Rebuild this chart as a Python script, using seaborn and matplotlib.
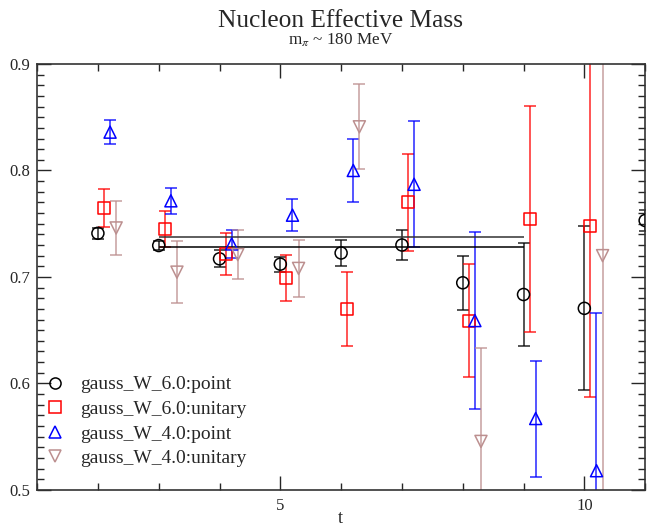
import numpy as np
import pandas as pd
import matplotlib
matplotlib.use("Agg")
import matplotlib.pyplot as plt
from matplotlib.lines import Line2D
from matplotlib.ticker import MultipleLocator, FormatStrFormatter
import seaborn as sns

# data (NaN = point not on the chart)
t = [2, 3, 4, 5, 6, 7, 8, 9, 10, 11]
w6_point = [0.741, 0.7295, 0.717, 0.712, 0.7225, 0.730, 0.6945, 0.6835, 0.6705, 0.753]
w6_point_err = [0.005, 0.004, 0.008, 0.007, 0.0125, 0.014, 0.0255, 0.0487, 0.077, 0.01]
w6_unit = [0.765, 0.745, 0.7215, 0.699, 0.670, 0.770, 0.659, 0.7545, 0.748, np.nan]
w6_unit_err = [0.018, 0.017, 0.0195, 0.022, 0.035, 0.0455, 0.053, 0.106, 0.161, np.nan]
w4_point = [0.836, 0.7715, 0.731, 0.758, 0.800, 0.787, 0.659, 0.567, 0.518, np.nan]
w4_point_err = [0.011, 0.012, 0.013, 0.015, 0.030, 0.059, 0.0835, 0.0545, 0.148, np.nan]
w4_unit = [0.746, 0.7045, 0.721, 0.708, 0.841, np.nan, 0.5455, np.nan, 0.720, np.nan]
w4_unit_err = [0.025, 0.029, 0.023, 0.027, 0.040, np.nan, 0.088, np.nan, 0.25, np.nan]
labels = ["gauss_W_6.0:point", "gauss_W_6.0:unitary", "gauss_W_4.0:point", "gauss_W_4.0:unitary"]
fit_hi, fit_lo = 0.7373, 0.7279
fit_range = (3, 9)

series = [
    (labels[0], w6_point, w6_point_err, 0.0, "o", "black"),
    (labels[1], w6_unit, w6_unit_err, 0.1, "s", "red"),
    (labels[2], w4_point, w4_point_err, 0.2, "^", "blue"),
    (labels[3], w4_unit, w4_unit_err, 0.3, "v", "rosybrown"),
]

sns.set_style("ticks")
plt.rcParams["font.family"] = ["Liberation Serif", "DejaVu Serif"]
plt.rcParams["mathtext.fontset"] = "stix"

fig = plt.figure(figsize=(6.51, 5.29), dpi=100)
ax = fig.add_axes([0.057, 0.074, 0.934, 0.805])

handles = []
for name, vals, errs, off, mk, col in series:
    df = pd.DataFrame({"t": np.array(t) + off, "m": vals, "err": errs}).dropna()
    ax.errorbar(df["t"], df["m"], yerr=df["err"], fmt="none", ecolor=col,
                elinewidth=1.1, capsize=4.5, capthick=1.1, alpha=0.85)
    sns.scatterplot(data=df, x="t", y="m", marker=mk, s=75, facecolor="none",
                    edgecolor=col, linewidth=1.1, ax=ax, zorder=3)
    handles.append(Line2D([], [], marker=mk, ls="none", mfc="none", mec=col,
                          ms=8, mew=1.1, label=name))

ax.hlines([fit_hi, fit_lo], *fit_range, colors=["#333333", "black"], lw=1.1)

ax.set_xlim(1, 11)
ax.set_ylim(0.5, 0.9)
ax.xaxis.set_major_locator(MultipleLocator(5))
ax.xaxis.set_minor_locator(MultipleLocator(1))
ax.yaxis.set_major_locator(MultipleLocator(0.1))
ax.yaxis.set_minor_locator(MultipleLocator(0.01))
ax.tick_params(which="both", direction="in", top=True, right=True, labelsize=12)
ax.tick_params(axis="x", pad=6)
ax.tick_params(axis="y", pad=5)
ax.tick_params(which="major", length=10, width=1)
ax.tick_params(which="minor", length=5, width=1)
ax.yaxis.set_major_formatter(FormatStrFormatter("%.1f"))
for s in ax.spines.values():
    s.set_linewidth(1.2)
    s.set_color("#333333")

ax.set_xlabel("")
ax.set_ylabel("")
fig.text(0.523, 0.019, "t", ha="center", va="center", fontsize=13)

fig.text(0.523, 0.960, "Nucleon Effective Mass", ha="center", va="center", fontsize=18.3)
fig.text(0.523, 0.923, r"m$_\pi$ ~ 180 MeV", ha="center", va="center", fontsize=12.3)

ax.legend(handles=handles, loc="lower left", frameon=False, fontsize=14,
          handlelength=1.0, handletextpad=0.8, labelspacing=0.36,
          borderaxespad=0.0, bbox_to_anchor=(0.0, 0.035))

fig.savefig("out.png", dpi=100)
